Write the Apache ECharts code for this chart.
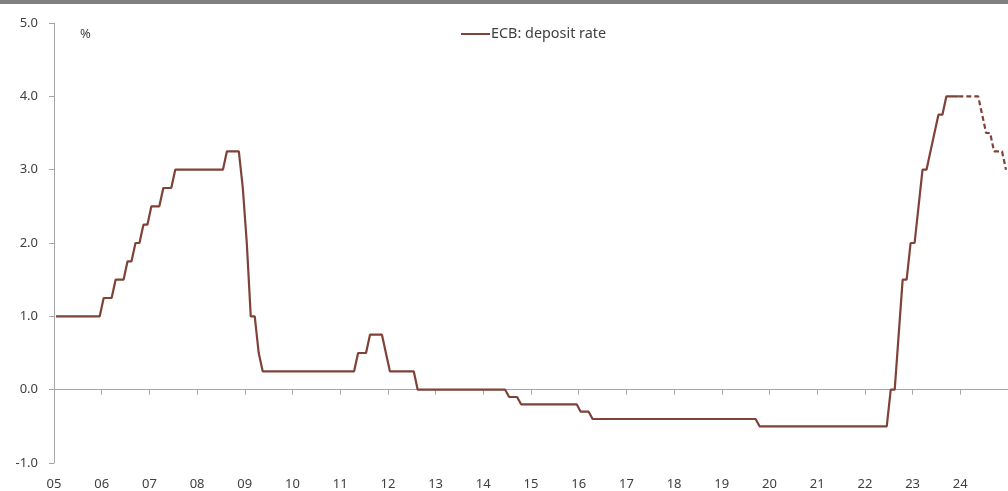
<!DOCTYPE html>
<html>
<head>
<meta charset="utf-8">
<script src="https://cdn.jsdelivr.net/npm/echarts@6/dist/echarts.min.js"></script>
<style>
html,body{margin:0;padding:0;background:#fff;}
#chart{width:1008px;height:491px;}
</style>
</head>
<body>
<div id="chart"></div>
<script>
// Actual ECB deposit rate (monthly corner points, month midpoint)
const actualMonths = [
  '2005-01','2005-12','2006-01','2006-03','2006-04','2006-06','2006-07','2006-08','2006-09','2006-10',
  '2006-11','2006-12','2007-01','2007-03','2007-04','2007-06','2007-07','2008-07','2008-08','2008-11',
  '2008-12','2009-01','2009-02','2009-03','2009-04','2009-05','2011-04','2011-05','2011-07','2011-08',
  '2011-11','2011-12','2012-01','2012-07','2012-08','2014-06','2014-07','2014-09','2014-10','2015-12',
  '2016-01','2016-03','2016-04','2019-09','2019-10','2022-06','2022-07','2022-08','2022-09','2022-10',
  '2022-11','2022-12','2023-01','2023-02','2023-03','2023-04','2023-05','2023-06','2023-07','2023-08',
  '2023-09','2023-12'
];
const actualRate = [
  1.00,1.00,1.25,1.25,1.50,1.50,1.75,1.75,2.00,2.00,
  2.25,2.25,2.50,2.50,2.75,2.75,3.00,3.00,3.25,3.25,
  2.75,2.00,1.00,1.00,0.50,0.25,0.25,0.50,0.50,0.75,
  0.75,0.50,0.25,0.25,0.00,0.00,-0.10,-0.10,-0.20,-0.20,
  -0.30,-0.30,-0.40,-0.40,-0.50,-0.50,0.00,0.00,0.75,1.50,
  1.50,2.00,2.00,2.50,3.00,3.00,3.25,3.50,3.75,3.75,
  4.00,4.00
];
// Expected path (dashed)
const expectedMonths = ['2023-12','2024-05','2024-06','2024-07','2024-08','2024-09','2024-11','2024-12'];
const expectedRate = [4.00,4.00,3.75,3.50,3.50,3.25,3.25,3.00];

const yTicks = [-1,0,1,2,3,4,5];
const yearLabels = ['05','06','07','08','09','10','11','12','13','14','15','16','17','18','19','20','21','22','23','24'];

const seriesName = 'ECB: deposit rate';
const lineColor = '#7f4238';

function toPoints(months, vals) {
  return months.map((m, i) => {
    const [y, mo] = m.split('-').map(Number);
    return [y + (mo - 0.5) / 12, vals[i]];
  });
}

const chart = echarts.init(document.getElementById('chart'), null, {renderer: 'canvas'});
const fontFam = '"Noto Sans", "Open Sans", sans-serif';
const yearFmt = function (v) {
  const idx = Math.round(v) - 2005;
  return (idx >= 0 && idx < yearLabels.length) ? yearLabels[idx] : '';
};

chart.setOption({
  animation: false,
  backgroundColor: '#ffffff',
  graphic: [
    {type: 'rect', left: 0, top: 0, shape: {width: 1008, height: 4}, style: {fill: '#808080'}},
    {type: 'text', left: 80, top: 28, style: {text: '%', fontSize: 13, fontFamily: fontFam, fill: '#404040'}}
  ],
  legend: {
    data: [seriesName],
    left: 456,
    top: 22,
    icon: 'rect',
    itemWidth: 29,
    itemHeight: 2,
    itemGap: 10,
    textStyle: {fontSize: 14.4, fontFamily: fontFam, color: '#404040', padding: [0,0,0,-4]}
  },
  grid: {left: 54, right: 0, top: 23, bottom: 28, containLabel: false, outerBoundsMode: 'none'},
  xAxis: [
    {
      type: 'value',
      min: 2005,
      max: 2025,
      interval: 1,
      position: 'bottom',
      axisLine: {show: true, onZero: true, lineStyle: {color: '#a6a6a6', width: 1}},
      axisTick: {show: true, length: 5, lineStyle: {color: '#a6a6a6'}},
      splitLine: {show: false},
      axisLabel: {show: false}
    },
    {
      type: 'value',
      min: 2005,
      max: 2025,
      interval: 1,
      position: 'bottom',
      axisLine: {show: false, onZero: false},
      axisTick: {show: false},
      splitLine: {show: false},
      axisLabel: {
        margin: 15,
        fontSize: 13,
        fontFamily: fontFam,
        color: '#404040',
        formatter: yearFmt
      }
    }
  ],
  yAxis: {
    type: 'value',
    min: yTicks[0],
    max: yTicks[yTicks.length - 1],
    interval: 1,
    axisLine: {show: true, lineStyle: {color: '#a6a6a6', width: 1}},
    axisTick: {show: true, length: 5, lineStyle: {color: '#a6a6a6'}},
    splitLine: {show: false},
    axisLabel: {
      margin: 16,
      fontSize: 13,
      fontFamily: fontFam,
      color: '#404040',
      formatter: v => v.toFixed(1)
    }
  },
  series: [
    {
      name: seriesName,
      type: 'line',
      xAxisIndex: 0,
      data: toPoints(actualMonths, actualRate),
      showSymbol: false,
      symbol: 'none',
      lineStyle: {color: lineColor, width: 2.2},
      itemStyle: {color: lineColor},
      z: 3
    },
    {
      name: 'expected',
      type: 'line',
      xAxisIndex: 0,
      data: toPoints(expectedMonths, expectedRate),
      showSymbol: false,
      symbol: 'none',
      lineStyle: {color: lineColor, width: 2.2, type: [5, 3]},
      itemStyle: {color: lineColor},
      z: 3
    }
  ]
});
</script>
</body>
</html>
